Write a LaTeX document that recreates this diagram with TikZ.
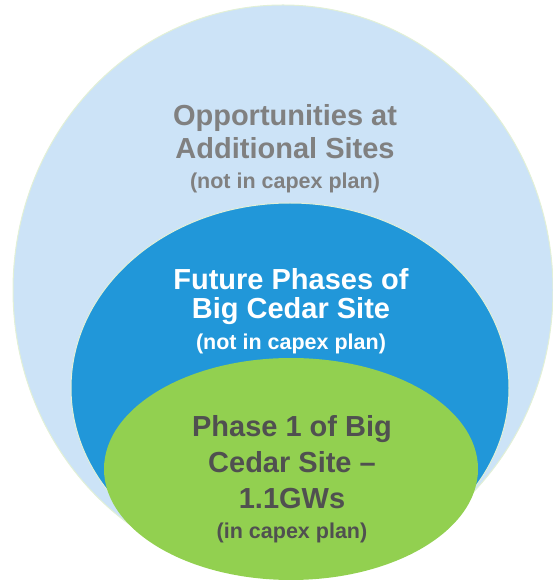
\documentclass[tikz,border=0pt]{standalone}
\usepackage{fontspec}
\setmainfont{Liberation Sans}
\usepackage{tikz}
\usetikzlibrary{calc}
\definecolor{paleblue}{RGB}{204,227,247}
\definecolor{midblue}{RGB}{33,151,217}
\definecolor{leafgreen}{RGB}{146,208,80}
\definecolor{rimgreen}{RGB}{226,240,215}
\definecolor{softgray}{RGB}{128,128,128}
\definecolor{darkgray}{RGB}{80,80,80}
\def\bigline{\fontsize{29}{37}\bfseries\selectfont}
\def\smallline{\fontsize{21.5}{27}\bfseries\selectfont}

\begin{document}
\begin{tikzpicture}[x=1pt, y=1pt,
	rim/.style={draw=rimgreen, line width=1pt},
	blocktext/.style={align=center, inner sep=0pt, font=\bigline}]
		%%%%% START %%%%%
		
		\useasboundingbox (0, 0) rectangle (553, 581);
		
		\fill[paleblue, rim] (283, 291) ellipse (270 and 285);
		\fill[midblue, rim] (290, 193) ellipse (219 and 185);
		\fill[leafgreen] (291, 112) ellipse (187 and 111);
		
		\node[blocktext, text=softgray] (opps) at (285, 432)
			{Opportunities at\\[-4pt] Additional Sites\\[-7pt] {\smallline (not in capex plan)}};
		\node[blocktext, text=white] (future) at (291, 270)
			{Future Phases of\\[-8pt] Big Cedar Site\\[-6pt] {\smallline (not in capex plan)}};
		\node[blocktext, text=darkgray] (phase1) at (292, 102)
			{Phase 1 of Big\\[-1pt] Cedar Site --\\[-1pt] 1.1GWs\\[-7pt] {\smallline (in capex plan)}};
		
		%%%%% END %%%%%
	\end{tikzpicture}
\end{document}
